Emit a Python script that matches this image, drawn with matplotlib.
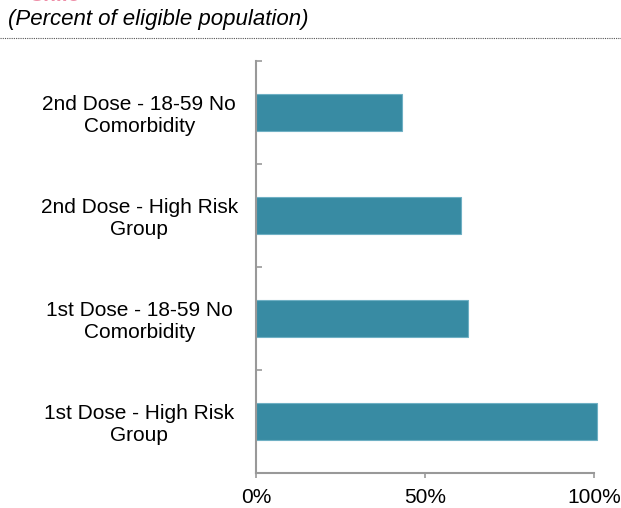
import matplotlib.pyplot as plt
import matplotlib.lines as mlines

# Datos (de abajo hacia arriba)
categorias = ["1st Dose - High Risk\nGroup",
              "1st Dose - 18-59 No\nComorbidity",
              "2nd Dose - High Risk\nGroup",
              "2nd Dose - 18-59 No\nComorbidity"]
valores = [100.7, 62.7, 60.6, 43.1]
ticks_x = [0, 50, 100]
etiquetas_x = ["0%", "50%", "100%"]

plt.rcParams['font.family'] = ['Liberation Sans', 'DejaVu Sans']

fig = plt.figure(figsize=(6.21, 5.08), dpi=100)
ax = fig.add_axes([0.4122, 0.0689, 0.957 - 0.4122, 0.880 - 0.0689])

pos = list(range(len(categorias)))
ax.barh(pos, valores, height=0.36, color='#388ba3', edgecolor='#6fb0c4',
        linewidth=0.8, clip_on=False, zorder=2)

ax.set_xlim(0, 100)
ax.set_ylim(-0.5, len(categorias) - 0.5)

ax.set_yticks(pos)
ax.set_yticklabels(categorias, ha='center', fontsize=15, linespacing=1.2)
ax.tick_params(axis='y', which='major', length=0, pad=84)
ax.set_yticks([p - 0.5 for p in pos] + [len(pos) - 0.5], minor=True)
ax.tick_params(axis='y', which='minor', direction='in', length=4.5,
               width=1.2, color='#999999')

ax.set_xticks(ticks_x)
ax.set_xticklabels(etiquetas_x, fontsize=15)
ax.tick_params(axis='x', direction='out', length=3.6, width=1.2,
               color='#999999', pad=7)

for s in ['top', 'right']:
    ax.spines[s].set_visible(False)
for s in ['left', 'bottom']:
    ax.spines[s].set_color('#999999')
    ax.spines[s].set_linewidth(1.5)
    ax.spines[s].set_zorder(3)

# Titulo cortado y subtitulo
fig.text(0.046, 1 - 1 / 508, "Chile", color='#ee8fa8', fontsize=15,
         fontweight='bold', ha='left', va='baseline')
fig.text(8 / 621, 1 - 19 / 508, "(Percent of eligible population)",
         fontsize=16, style='italic', ha='left', va='center')
fig.add_artist(mlines.Line2D([0, 1], [1 - 38 / 508, 1 - 38 / 508],
                             transform=fig.transFigure, color='#555555',
                             linewidth=0.8, linestyle=(0, (1, 1))))

fig.savefig('out.png', dpi=100)
